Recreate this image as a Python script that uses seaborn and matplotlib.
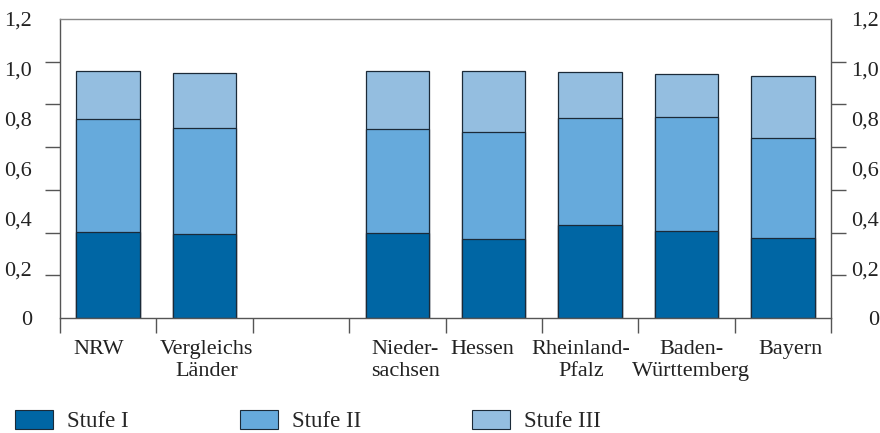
import numpy as np
import pandas as pd
import matplotlib
matplotlib.use("Agg")
import matplotlib.pyplot as plt
import seaborn as sns
from matplotlib.patches import Patch
from matplotlib.ticker import FixedLocator, FuncFormatter
from matplotlib.transforms import ScaledTranslation

sns.set_style("white")
plt.rcParams['font.family'] = ['Liberation Serif', 'DejaVu Serif']

# data (third slot is an empty gap)
laender = ['NRW', 'Vergleichs\nLänder', '', 'Nieder-\nsachsen', 'Hessen',
           'Rheinland-\nPfalz', 'Baden-\nWürttemberg', 'Bayern']
stufe_1 = [0.346, 0.338, 0.0, 0.343, 0.319, 0.375, 0.350, 0.323]
stufe_2 = [0.452, 0.424, 0.0, 0.416, 0.429, 0.427, 0.456, 0.401]
stufe_3 = [0.193, 0.220, 0.0, 0.231, 0.245, 0.186, 0.172, 0.248]
stufen = ['Stufe I', 'Stufe II', 'Stufe III']
farben = ['#0066a4', '#66aadc', '#94bee0']
y_labels = [0, 0.2, 0.4, 0.6, 0.8, 1.0, 1.2]

slots = [f's{i}' for i in range(len(laender))]
df = pd.DataFrame({'slot': slots, 'Stufe I': stufe_1,
                   'Stufe II': stufe_2, 'Stufe III': stufe_3})
df['s12'] = df['Stufe I'] + df['Stufe II']
df['s123'] = df['s12'] + df['Stufe III']
sub = df[df['Stufe I'] > 0]

fig = plt.figure(figsize=(8.8, 4.33), dpi=100)
ax = fig.add_axes([60/880, 1-318/433, (831-60)/880, (318-19)/433])

# stack drawn back to front
for col, c in zip(['s123', 's12', 'Stufe I'], farben[::-1]):
    sns.barplot(data=sub, x='slot', y=col, order=slots, color=c, width=0.66,
                edgecolor='#1b2a38', linewidth=0.9, saturation=1, ax=ax)

ax.set_xlim(-0.5, 7.5)
ax.set_ylim(0, 1.2)
ax.set_xlabel('')
ax.set_ylabel('')

linecol = '#555555'
for s in ax.spines.values():
    s.set_color(linecol)
    s.set_linewidth(1.0)
ax.spines['top'].set_color('#888888')

fmt = FuncFormatter(lambda v, p: '0' if v == 0 else f'{v:.1f}'.replace('.', ','))

# left: labels every 0.2, tick marks at 7 equal steps
ax.yaxis.set_major_locator(FixedLocator(y_labels))
ax.yaxis.set_major_formatter(fmt)
ax.yaxis.set_minor_locator(FixedLocator(np.linspace(0, 1.2, 8)))
ax.tick_params(axis='y', which='major', length=0, labelsize=16, pad=20,
               left=True, right=False, colors='#222222')
ax.tick_params(axis='y', which='minor', length=10.8, width=1.0, direction='out',
               left=True, right=False, color=linecol)

# right side as twin axis
ax2 = ax.twinx()
ax2.set_ylim(0, 1.2)
for s in ax2.spines.values():
    s.set_visible(False)
ax2.yaxis.set_major_locator(FixedLocator(y_labels))
ax2.yaxis.set_major_formatter(fmt)
ax2.yaxis.set_minor_locator(FixedLocator(np.linspace(0, 1.2, 8)))
ax2.tick_params(axis='y', which='major', length=0, labelsize=16, pad=34.5,
                colors='#222222')
ax2.tick_params(axis='y', which='minor', length=10.8, width=1.0, direction='out',
                color=linecol)
fig.canvas.draw()
for lab in ax2.get_yticklabels():
    lab.set_horizontalalignment('right')

# x: labels, separator marks between slots
ax.set_xticks(range(len(laender)))
ax.set_xticklabels(laender, fontsize=16, linespacing=1.22, color='#222222')
ax.xaxis.set_minor_locator(FixedLocator(np.arange(-0.5, 8, 1)))
ax.tick_params(axis='x', which='major', length=0, pad=15.5)
ax.tick_params(axis='x', which='minor', length=10.8, width=1.0, direction='out',
               bottom=True, color=linecol)
shift_px = [-9, 2, 0, 8, -11, -9, 5, 8]
for lab, dx in zip(ax.get_xticklabels(), shift_px):
    lab.set_transform(lab.get_transform() + ScaledTranslation(dx/100, 0, fig.dpi_scale_trans))

handles = [Patch(facecolor=c, edgecolor='#1b2a38', linewidth=0.8) for c in farben]
fig.legend(handles, stufen, loc='upper left', bbox_to_anchor=(15/880, 1-410/433),
           ncol=3, frameon=False, fontsize=16.5, borderpad=0, borderaxespad=0,
           handlelength=1.66, handleheight=0.87, handletextpad=0.61,
           columnspacing=4.85)

fig.savefig('out.png', dpi=100)
